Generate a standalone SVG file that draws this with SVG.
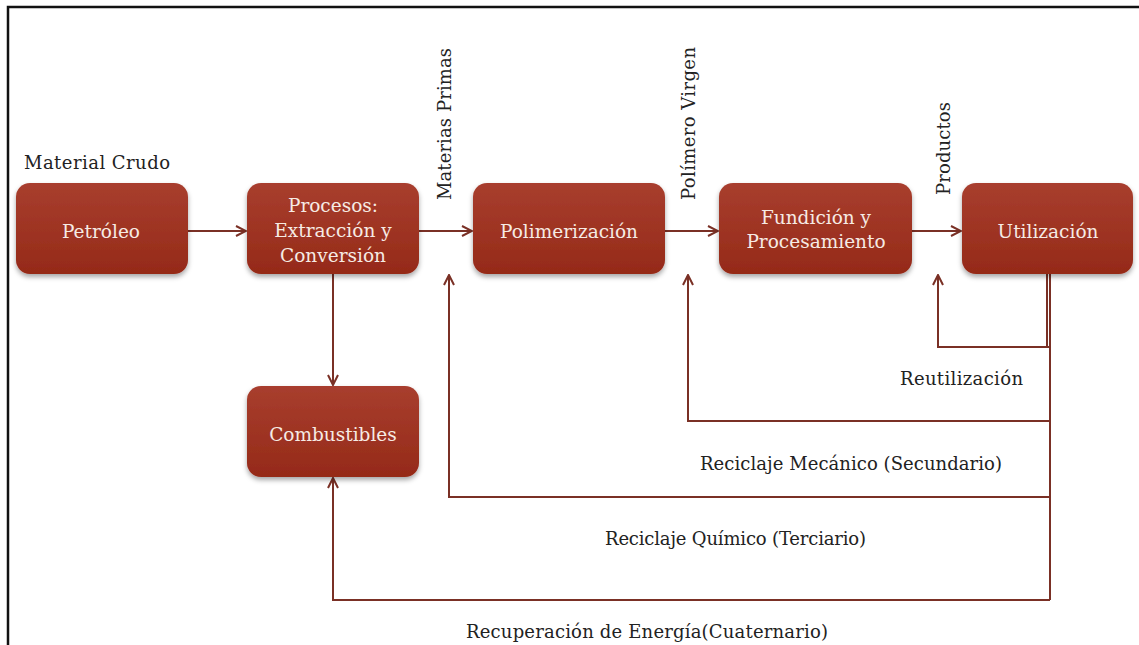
<svg xmlns="http://www.w3.org/2000/svg" width="1139" height="645" viewBox="0 0 1139 645">
<defs>
<linearGradient id="g" x1="0" y1="0" x2="0" y2="1">
<stop offset="0" stop-color="#a83e2e"/>
<stop offset="1" stop-color="#952a18"/>
</linearGradient>
<filter id="sh" x="-10%" y="-10%" width="120%" height="130%">
<feDropShadow dx="0" dy="3" stdDeviation="2.5" flood-color="#000" flood-opacity="0.35"/>
</filter>
<marker id="ar" viewBox="0 0 12 12" refX="11" refY="6" markerWidth="12" markerHeight="12" markerUnits="userSpaceOnUse" orient="auto">
<path d="M1,1 L11,6 L1,11" fill="none" stroke="#7a3025" stroke-width="2"/>
</marker>
<style>
.box{fill:url(#g);filter:url(#sh)}
.nt{font-family:"DejaVu Serif",serif;font-size:18.5px;fill:#f6ebe4;text-anchor:middle}
.lb{font-family:"DejaVu Serif",serif;font-size:18px;fill:#222}
.c{fill:none;stroke:#7a3025;stroke-width:2}
</style>
</defs>
<rect x="0" y="0" width="1139" height="645" fill="#fff"/>
<path d="M8,645 V7 H1139" fill="none" stroke="#111" stroke-width="2.5"/>

<g id="connectors">
<line class="c" x1="188" y1="231" x2="246" y2="231" marker-end="url(#ar)"/>
<line class="c" x1="419" y1="231" x2="472" y2="231" marker-end="url(#ar)"/>
<line class="c" x1="665" y1="231" x2="718" y2="231" marker-end="url(#ar)"/>
<line class="c" x1="912" y1="231" x2="961" y2="231" marker-end="url(#ar)"/>
<line class="c" x1="333" y1="274" x2="333" y2="385" marker-end="url(#ar)"/>
<line class="c" x1="1047" y1="274" x2="1047" y2="347"/>
<line class="c" x1="1050" y1="274" x2="1050" y2="600"/>
<polyline class="c" points="1050,347 938,347 938,275" marker-end="url(#ar)"/>
<polyline class="c" points="1050,421 688,421 688,275" marker-end="url(#ar)"/>
<polyline class="c" points="1050,497 449,497 449,275" marker-end="url(#ar)"/>
<polyline class="c" points="1050,600 333,600 333,478" marker-end="url(#ar)"/>
</g>

<g id="petroleo">
<rect class="box" x="16" y="183" width="172" height="91" rx="14"/>
<text class="nt" x="101" y="238">Petróleo</text>
</g>
<g id="procesos">
<rect class="box" x="247" y="183" width="172" height="91" rx="14"/>
<text class="nt" x="333" y="212">Procesos:</text>
<text class="nt" x="333" y="237">Extracción y</text>
<text class="nt" x="333" y="262">Conversión</text>
</g>
<g id="polimerizacion">
<rect class="box" x="473" y="183" width="192" height="91" rx="14"/>
<text class="nt" x="569" y="238">Polimerización</text>
</g>
<g id="fundicion">
<rect class="box" x="719" y="183" width="193" height="91" rx="14"/>
<text class="nt" x="816" y="224">Fundición y</text>
<text class="nt" x="816" y="248">Procesamiento</text>
</g>
<g id="utilizacion">
<rect class="box" x="962" y="183" width="171" height="91" rx="14"/>
<text class="nt" x="1048" y="238">Utilización</text>
</g>
<g id="combustibles">
<rect class="box" x="247" y="386" width="172" height="91" rx="14"/>
<text class="nt" x="333" y="441">Combustibles</text>
</g>

<g id="labels">
<text class="lb" x="24" y="169" textLength="146">Material Crudo</text>
<text class="lb" transform="translate(451,200) rotate(-90)" textLength="152">Materias Primas</text>
<text class="lb" transform="translate(695,200) rotate(-90)" textLength="153">Polímero Virgen</text>
<text class="lb" transform="translate(950,195) rotate(-90)" textLength="93">Productos</text>
<text class="lb" x="900" y="385" textLength="123">Reutilización</text>
<text class="lb" x="700" y="470" textLength="302">Reciclaje Mecánico (Secundario)</text>
<text class="lb" x="605" y="545" textLength="261">Reciclaje Químico (Terciario)</text>
<text class="lb" x="466" y="638" textLength="362">Recuperación de Energía(Cuaternario)</text>
</g>
</svg>
